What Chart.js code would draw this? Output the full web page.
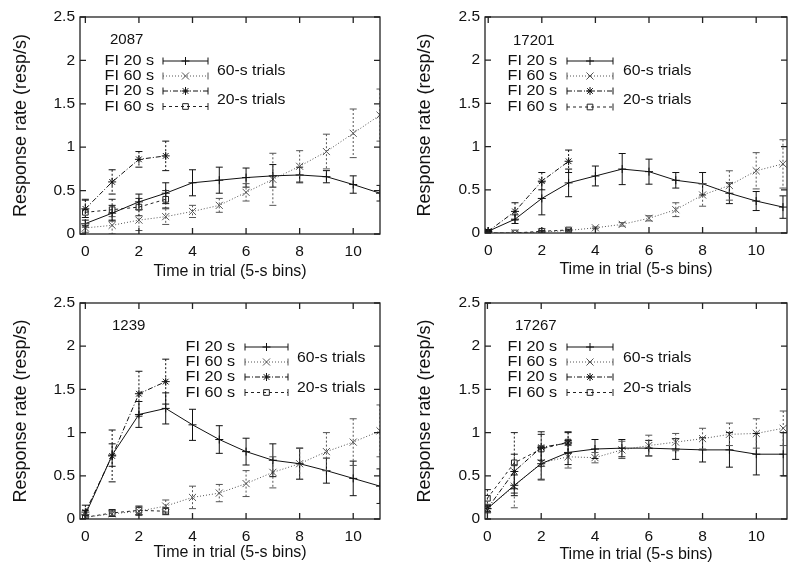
<!DOCTYPE html>
<html>
<head>
<meta charset="utf-8">
<script src="https://cdn.jsdelivr.net/npm/chart.js@4.4.1/dist/chart.umd.min.js"></script>
<style>
  html, body { margin: 0; padding: 0; background: #fff; }
  #wrap { position: relative; width: 800px; height: 576px; overflow: hidden; }
  canvas { position: absolute; }
</style>
</head>
<body>
<div id="wrap">
  <canvas id="c2087" width="400" height="288" style="left:0;top:0"></canvas>
  <canvas id="c17201" width="400" height="288" style="left:400px;top:0"></canvas>
  <canvas id="c1239" width="400" height="288" style="left:0;top:288px"></canvas>
  <canvas id="c17267" width="400" height="288" style="left:400px;top:288px"></canvas>
</div>
<script>
// time bins (5-s bins) for 60-s trials and 20-s trials
const binsLong = [0, 1, 2, 3, 4, 5, 6, 7, 8, 9, 10, 11];
const binsShort = [0, 1, 2, 3];
const xTickVals = [0, 2, 4, 6, 8, 10];
const yTickVals = [0, 0.5, 1, 1.5, 2, 2.5];
const seriesLabels = ["FI 20 s", "FI 60 s", "FI 20 s", "FI 60 s"];
const groupLabels = ["60-s trials", "20-s trials"];

// bird 2087
const r2087_fi20_long = [0.12, 0.24, 0.37, 0.47, 0.59, 0.62, 0.65, 0.67, 0.68, 0.66, 0.57, 0.47];
const r2087_fi20_long_err = [0.04, 0.09, 0.09, 0.12, 0.15, 0.15, 0.11, 0.13, 0.09, 0.07, 0.10, 0.09];
const r2087_fi60_long = [0.07, 0.10, 0.16, 0.20, 0.26, 0.33, 0.48, 0.63, 0.78, 0.95, 1.16, 1.37];
const r2087_fi60_long_err = [0.05, 0.10, 0.12, 0.09, 0.07, 0.08, 0.10, 0.30, 0.18, 0.20, 0.28, 0.30];
const r2087_fi20_short = [0.29, 0.60, 0.86, 0.90];
const r2087_fi20_short_err = [0.10, 0.14, 0.09, 0.17];
const r2087_fi60_short = [0.25, 0.28, 0.31, 0.40];
const r2087_fi60_short_err = [0.15, 0.12, 0.10, 0.10];

// bird 17201
const r17201_fi20_long = [0.02, 0.16, 0.40, 0.58, 0.66, 0.74, 0.71, 0.61, 0.57, 0.46, 0.37, 0.30];
const r17201_fi20_long_err = [0.02, 0.05, 0.19, 0.16, 0.115, 0.18, 0.145, 0.09, 0.13, 0.12, 0.11, 0.13];
const r17201_fi60_long = [0.0, 0.0, 0.01, 0.03, 0.06, 0.10, 0.17, 0.27, 0.44, 0.55, 0.72, 0.80];
const r17201_fi60_long_err = [0, 0, 0.01, 0.01, 0.01, 0.02, 0.03, 0.08, 0.13, 0.17, 0.21, 0.28];
const r17201_fi20_short = [0.02, 0.25, 0.60, 0.83];
const r17201_fi20_short_err = [0.01, 0.10, 0.10, 0.13];
const r17201_fi60_short = [0.0, 0.0, 0.02, 0.035];
const r17201_fi60_short_err = [0, 0, 0.01, 0.01];

// bird 1239
const r1239_fi20_long = [0.05, 0.74, 1.21, 1.28, 1.09, 0.92, 0.78, 0.68, 0.64, 0.56, 0.47, 0.38];
const r1239_fi20_long_err = [0.05, 0.13, 0.15, 0.18, 0.18, 0.16, 0.155, 0.19, 0.18, 0.145, 0.20, 0.20];
const r1239_fi60_long = [0.02, 0.06, 0.09, 0.15, 0.25, 0.30, 0.41, 0.54, 0.64, 0.78, 0.89, 1.02];
const r1239_fi60_long_err = [0.03, 0.03, 0.05, 0.07, 0.13, 0.10, 0.15, 0.18, 0.18, 0.22, 0.27, 0.30];
const r1239_fi20_short = [0.08, 0.73, 1.45, 1.59];
const r1239_fi20_short_err = [0.08, 0.30, 0.26, 0.26];
const r1239_fi60_short = [0.02, 0.07, 0.10, 0.09];
const r1239_fi60_short_err = [0.02, 0.04, 0.05, 0.04];

// bird 17267
const r17267_fi20_long = [0.12, 0.39, 0.64, 0.77, 0.81, 0.82, 0.82, 0.81, 0.80, 0.80, 0.75, 0.75];
const r17267_fi20_long_err = [0.03, 0.12, 0.18, 0.14, 0.11, 0.10, 0.09, 0.12, 0.14, 0.20, 0.24, 0.25];
const r17267_fi60_long = [0.12, 0.38, 0.65, 0.72, 0.71, 0.80, 0.85, 0.89, 0.93, 0.98, 0.99, 1.05];
const r17267_fi60_long_err = [0.05, 0.25, 0.20, 0.13, 0.06, 0.10, 0.12, 0.10, 0.12, 0.13, 0.17, 0.20];
const r17267_fi20_short = [0.12, 0.55, 0.83, 0.88];
const r17267_fi20_short_err = [0.04, 0.20, 0.15, 0.12];
const r17267_fi60_short = [0.24, 0.65, 0.81, 0.89];
const r17267_fi60_short_err = [0.10, 0.35, 0.20, 0.12];

const FONT = "'Liberation Sans', Arial, sans-serif";
const INK = "#111";

// line looks: solid +, dotted x, dash-dot *, dashed square
const styles = [
  { color: "#111", dash: [], point: "cross" },
  { color: "#555", dash: [1, 2], point: "crossRot" },
  { color: "#111", dash: [5, 2, 1, 2], point: "star" },
  { color: "#222", dash: [3, 3], point: "rect" }
];

function makeSet(xs, ys, errs, idx) {
  const st = styles[idx];
  return {
    label: seriesLabels[idx],
    data: xs.map((x, i) => ({ x: x, y: ys[i] })),
    errs: errs,
    borderColor: st.color,
    borderDash: st.dash,
    borderWidth: 1,
    pointStyle: st.point,
    pointRadius: st.point === "crossRot" ? 5 : 4,
    pointBorderWidth: 1,
    pointBorderColor: st.color,
    pointBackgroundColor: "rgba(0,0,0,0)",
    fill: false,
    tension: 0
  };
}

function drawMarker(ctx, style, r, x, y) {
  ctx.beginPath();
  if (style === "cross" || style === "star") {
    ctx.moveTo(x - r, y); ctx.lineTo(x + r, y);
    ctx.moveTo(x, y - r); ctx.lineTo(x, y + r);
  }
  if (style === "crossRot" || style === "star") {
    const d = r * Math.SQRT1_2;
    ctx.moveTo(x - d, y - d); ctx.lineTo(x + d, y + d);
    ctx.moveTo(x - d, y + d); ctx.lineTo(x + d, y - d);
  }
  if (style === "rect") {
    const s = r * Math.SQRT1_2;
    ctx.rect(x - s, y - s, 2 * s, 2 * s);
  }
  ctx.stroke();
}

function wideText(ctx, text, x, y, align, sx) {
  ctx.save();
  ctx.translate(x, y);
  ctx.scale(sx, 1);
  ctx.textAlign = align;
  ctx.textBaseline = "middle";
  ctx.fillText(text, 0, 0);
  ctx.restore();
}

const gnuplotLook = {
  id: "gnuplotLook",
  afterDatasetsDraw(chart) {
    const { ctx, chartArea, scales } = chart;
    const cap = 3.5;
    ctx.save();
    ctx.beginPath();
    ctx.rect(chartArea.left, chartArea.top, chartArea.right - chartArea.left, chartArea.bottom - chartArea.top);
    ctx.clip();
    chart.data.datasets.forEach(ds => {
      const barDash = ds.borderDash.length ? [2, 2] : [];
      ctx.strokeStyle = ds.borderColor;
      ctx.lineWidth = 1;
      ds.data.forEach((p, i) => {
        const e = ds.errs[i];
        if (!e) return;
        const px = scales.x.getPixelForValue(p.x);
        const hi = scales.y.getPixelForValue(p.y + e);
        const lo = scales.y.getPixelForValue(p.y - e);
        ctx.setLineDash(barDash);
        ctx.beginPath();
        ctx.moveTo(px, hi); ctx.lineTo(px, lo);
        ctx.stroke();
        ctx.setLineDash([]);
        ctx.beginPath();
        ctx.moveTo(px - cap, hi); ctx.lineTo(px + cap, hi);
        ctx.moveTo(px - cap, lo); ctx.lineTo(px + cap, lo);
        ctx.stroke();
      });
    });
    ctx.restore();
  },
  afterDraw(chart) {
    const { ctx, chartArea: a, scales } = chart;
    const tick = 6;
    ctx.save();
    ctx.strokeStyle = "#222";
    ctx.lineWidth = 1.3;
    ctx.setLineDash([]);
    ctx.strokeRect(a.left, a.top, a.right - a.left, a.bottom - a.top);
    ctx.beginPath();
    yTickVals.forEach(v => {
      const py = scales.y.getPixelForValue(v);
      ctx.moveTo(a.left, py); ctx.lineTo(a.left + tick, py);
      ctx.moveTo(a.right, py); ctx.lineTo(a.right - tick, py);
    });
    xTickVals.forEach(v => {
      const px = scales.x.getPixelForValue(v);
      ctx.moveTo(px, a.bottom); ctx.lineTo(px, a.bottom - tick);
      ctx.moveTo(px, a.top); ctx.lineTo(px, a.top + tick);
    });
    ctx.stroke();

    // legend block inside the plot
    const L = chart.options.plugins.gnuplotLook.legend;
    ctx.fillStyle = INK;
    ctx.font = "15px " + FONT;
    wideText(ctx, L.name, L.nameX, L.nameY, "left", 1);
    ctx.font = "15px " + FONT;
    L.rowY.forEach((ry, i) => {
      const st = styles[i];
      wideText(ctx, seriesLabels[i], L.textRight, ry, "right", 1.08);
      ctx.strokeStyle = st.color;
      ctx.lineWidth = 1;
      ctx.setLineDash(st.dash);
      ctx.beginPath();
      ctx.moveTo(L.lineL, ry); ctx.lineTo(L.lineR, ry);
      ctx.stroke();
      ctx.setLineDash([]);
      ctx.beginPath();
      ctx.moveTo(L.lineL, ry - 3.5); ctx.lineTo(L.lineL, ry + 3.5);
      ctx.moveTo(L.lineR, ry - 3.5); ctx.lineTo(L.lineR, ry + 3.5);
      ctx.stroke();
      drawMarker(ctx, st.point, st.point === "crossRot" ? 5 : 4, (L.lineL + L.lineR) / 2, ry);
    });
    groupLabels.forEach((g, i) => {
      wideText(ctx, g, L.groupX, L.groupY[i], "left", 1.05);
    });
    ctx.restore();
  }
};

function makePanel(id, sets, view) {
  new Chart(document.getElementById(id), {
    type: "line",
    data: {
      datasets: [
        makeSet(binsLong, sets[0], sets[1], 0),
        makeSet(binsLong, sets[2], sets[3], 1),
        makeSet(binsShort, sets[4], sets[5], 2),
        makeSet(binsShort, sets[6], sets[7], 3)
      ]
    },
    options: {
      responsive: false,
      animation: false,
      layout: { padding: { top: view.top, right: view.right, left: 0, bottom: 0 } },
      plugins: {
        legend: { display: false },
        tooltip: { enabled: false },
        gnuplotLook: { legend: view.legend }
      },
      scales: {
        x: {
          type: "linear",
          min: view.xMin,
          max: view.xMax,
          grid: { display: false, drawTicks: false },
          border: { display: false },
          afterBuildTicks: s => { s.ticks = xTickVals.map(v => ({ value: v })); },
          afterFit: s => { s.height = view.xHeight; },
          ticks: { color: INK, font: { family: FONT, size: 15.5 }, padding: 8, maxRotation: 0 },
          title: {
            display: true, text: "Time in trial (5-s bins)", color: INK,
            font: { family: FONT, size: 16 }, padding: { top: 0, bottom: view.xTitlePad }
          }
        },
        y: {
          type: "linear",
          min: 0,
          max: 2.5,
          grid: { display: false, drawTicks: false },
          border: { display: false },
          afterBuildTicks: s => { s.ticks = yTickVals.map(v => ({ value: v })); },
          afterFit: s => { s.width = view.yWidth; },
          ticks: { color: INK, font: { family: FONT, size: 15.5 }, padding: 5, callback: v => String(v) },
          title: {
            display: true, text: "Response rate (resp/s)", color: INK,
            font: { family: FONT, size: 18 }, padding: { top: view.yTitlePad, bottom: 0 }
          }
        }
      }
    },
    plugins: [gnuplotLook]
  });
}

makePanel("c2087",
  [r2087_fi20_long, r2087_fi20_long_err, r2087_fi60_long, r2087_fi60_long_err,
   r2087_fi20_short, r2087_fi20_short_err, r2087_fi60_short, r2087_fi60_short_err],
  { top: 17, right: 20, yWidth: 80, xHeight: 54, xMin: -0.2, xMax: 11, xTitlePad: 7, yTitlePad: 10,
    legend: { name: "2087", nameX: 110, nameY: 40, textRight: 154, lineL: 163, lineR: 208,
              rowY: [61, 76, 91, 106.5], groupX: 217, groupY: [71, 100] } });

makePanel("c17201",
  [r17201_fi20_long, r17201_fi20_long_err, r17201_fi60_long, r17201_fi60_long_err,
   r17201_fi20_short, r17201_fi20_short_err, r17201_fi60_short, r17201_fi60_short_err],
  { top: 17, right: 13, yWidth: 85, xHeight: 55, xMin: -0.12, xMax: 11.15, xTitlePad: 9, yTitlePad: 14,
    legend: { name: "17201", nameX: 113, nameY: 41, textRight: 157, lineL: 167, lineR: 213,
              rowY: [61, 76, 91, 107], groupX: 223, groupY: [71, 100] } });

makePanel("c1239",
  [r1239_fi20_long, r1239_fi20_long_err, r1239_fi60_long, r1239_fi60_long_err,
   r1239_fi20_short, r1239_fi20_short_err, r1239_fi60_short, r1239_fi60_short_err],
  { top: 15, right: 20, yWidth: 80, xHeight: 57, xMin: -0.2, xMax: 11, xTitlePad: 14, yTitlePad: 10,
    legend: { name: "1239", nameX: 112, nameY: 38, textRight: 235, lineL: 245, lineR: 288,
              rowY: [59, 74, 89, 104.5], groupX: 297, groupY: [70, 100] } });

makePanel("c17267",
  [r17267_fi20_long, r17267_fi20_long_err, r17267_fi60_long, r17267_fi60_long_err,
   r17267_fi20_short, r17267_fi20_short_err, r17267_fi60_short, r17267_fi60_short_err],
  { top: 15, right: 13, yWidth: 85, xHeight: 57, xMin: -0.09, xMax: 11.14, xTitlePad: 12, yTitlePad: 14,
    legend: { name: "17267", nameX: 115, nameY: 38, textRight: 157, lineL: 167, lineR: 213,
              rowY: [59, 74, 89, 104.5], groupX: 223, groupY: [70, 100] } });
</script>
</body>
</html>
